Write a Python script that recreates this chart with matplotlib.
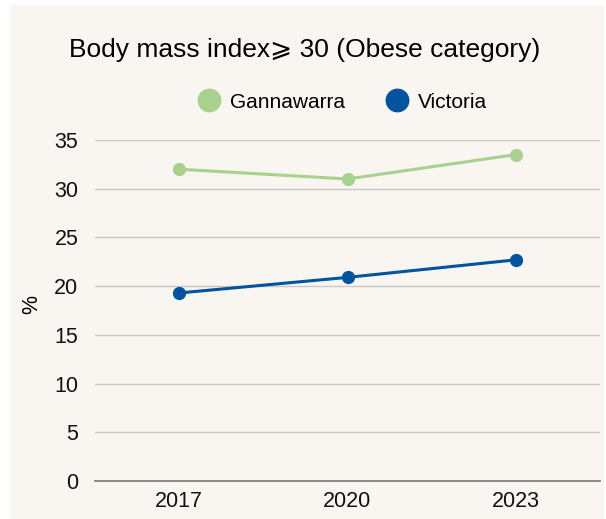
import matplotlib.pyplot as plt
from matplotlib.patches import Rectangle

plt.rcParams['font.family'] = ['Liberation Sans', 'DejaVu Sans']

years = ['2017', '2020', '2023']
gannawarra = [32.0, 31.0, 33.5]
victoria = [19.3, 20.9, 22.7]

green = '#a9d18e'
blue = '#00539f'
bg = '#f9f6f2'

fig = plt.figure(figsize=(6.06, 5.19), dpi=100)
fig.patch.set_facecolor('white')
# beige panel behind everything
fig.patches.append(Rectangle((10 / 606, 0), 594 / 606, 514 / 519,
                             transform=fig.transFigure, facecolor=bg,
                             edgecolor='none', zorder=-10))

ax = fig.add_axes([95 / 606, 38 / 519, 505 / 606, 341 / 519])
ax.set_facecolor('none')

x = range(len(years))
ax.plot(x, gannawarra, color=green, lw=2.2, marker='o', ms=8.5, label='Gannawarra', zorder=3)
ax.plot(x, victoria, color=blue, lw=2.2, marker='o', ms=8.5, label='Victoria', zorder=3)

ax.set_xlim(-0.5, 2.5)
ax.set_ylim(0, 35)
ax.set_yticks(range(0, 36, 5))
ax.set_xticks(list(x))
ax.set_xticklabels(years)
ax.tick_params(length=0, labelsize=15.5, colors='#111111')
ax.tick_params(axis='y', pad=12)
ax.tick_params(axis='x', pad=7)
ax.grid(axis='y', color='#cbc7c2', lw=1)
ax.set_axisbelow(True)
for s in ['top', 'right', 'left']:
    ax.spines[s].set_visible(False)
ax.spines['bottom'].set_color('#777777')
ax.spines['bottom'].set_linewidth(1.2)

fig.text(32 / 606, 1 - 305 / 519, '%', rotation=90, ha='center', va='center', fontsize=15.5)

fig.text(305 / 606, 1 - 50 / 519, 'Body mass index⩾ 30 (Obese category)',
         ha='center', va='center', fontsize=19)

fig.legend(loc='center', bbox_to_anchor=(348 / 606, 1 - 102 / 519), ncol=2,
           frameon=False, fontsize=15, handlelength=0, handletextpad=1.0,
           columnspacing=2.5, markerscale=1.9)

fig.savefig('out.png', dpi=100, facecolor=fig.get_facecolor())
